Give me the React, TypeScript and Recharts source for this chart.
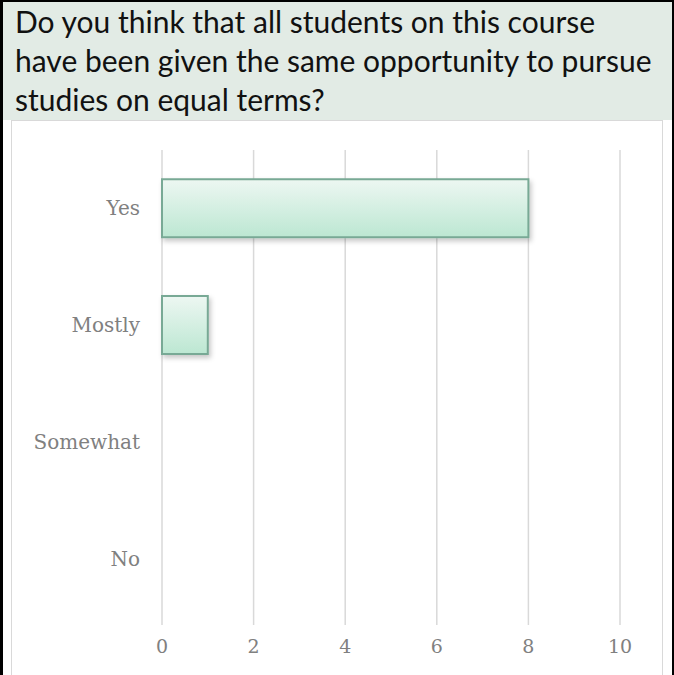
import React from "react";
import { BarChart, Bar, XAxis, YAxis, CartesianGrid } from "recharts";

const titleLines = [
  "Do you think that all students on this course",
  "have been given the same opportunity to pursue",
  "studies on equal terms?",
];

const answers = ["Yes", "Mostly", "Somewhat", "No"];
const counts = [8, 1, 0, 0];
const xTicks = [0, 2, 4, 6, 8, 10];

const data = answers.map((answer, i) => ({ answer, count: counts[i] }));

const serif = "Georgia, 'DejaVu Serif', serif";

const App: React.FC = () => {
  return (
    <div
      style={{
        position: "absolute",
        left: 0,
        top: 0,
        width: 674,
        height: 675,
        background: "#fff",
        overflow: "hidden",
      }}
    >
      {/* black frame */}
      <div
        style={{
          position: "absolute",
          left: 0,
          top: 0,
          width: 674,
          height: 680,
          boxSizing: "border-box",
          borderLeft: "3px solid #000",
          borderTop: "2px solid #000",
          borderRight: "2px solid #000",
        }}
      />
      {/* title */}
      <div
        style={{
          position: "absolute",
          left: 3,
          top: 2,
          width: 669,
          height: 118,
          background: "#e2ebe5",
          fontFamily: "Lato, 'Open Sans', sans-serif",
          fontSize: 30,
          lineHeight: "39px",
          color: "#111",
          paddingLeft: 12,
          paddingTop: 0,
          boxSizing: "border-box",
          whiteSpace: "nowrap",
        }}
      >
        {titleLines.map((l) => (
          <div key={l}>{l}</div>
        ))}
      </div>
      {/* chart box */}
      <div
        style={{
          position: "absolute",
          left: 11,
          top: 120,
          width: 652,
          height: 560,
          boxSizing: "border-box",
          border: "1.5px solid #d9d9d9",
        }}
      />
      <div style={{ position: "absolute", left: 12, top: 121 }}>
        <BarChart
          width={650}
          height={552}
          data={data}
          layout="vertical"
          margin={{ top: 29, right: 42, bottom: 0, left: 0 }}
          barCategoryGap="25%"
        >
          <defs>
            <linearGradient id="barFill" x1="0" y1="0" x2="0" y2="1">
              <stop offset="0%" stopColor="#edf7f2" />
              <stop offset="100%" stopColor="#bce7d2" />
            </linearGradient>
            <filter id="barShadow" x="-10%" y="-20%" width="130%" height="160%">
              <feDropShadow dx="2" dy="3" stdDeviation="2.5" floodColor="#000" floodOpacity="0.22" />
            </filter>
          </defs>
          <CartesianGrid horizontal={false} stroke="#d9d9d9" strokeWidth={1.5} />
          <XAxis
            type="number"
            domain={[0, 10]}
            ticks={xTicks}
            height={56}
            axisLine={false}
            tickLine={{ stroke: "#d9d9d9", strokeWidth: 1.5 }}
            tickSize={8}
            tickMargin={15}
            tick={{ fill: "#808080", fontSize: 19, fontFamily: serif }}
          />
          <YAxis
            type="category"
            dataKey="answer"
            width={150}
            axisLine={false}
            tickLine={false}
            tickSize={0}
            tickMargin={22}
            tick={{ fill: "#808080", fontSize: 20, fontFamily: serif }}
          />
          <Bar
            dataKey="count"
            fill="url(#barFill)"
            stroke="#78a995"
            strokeWidth={2}
            filter="url(#barShadow)"
            isAnimationActive={false}
          />
        </BarChart>
      </div>
    </div>
  );
};

export default App;
